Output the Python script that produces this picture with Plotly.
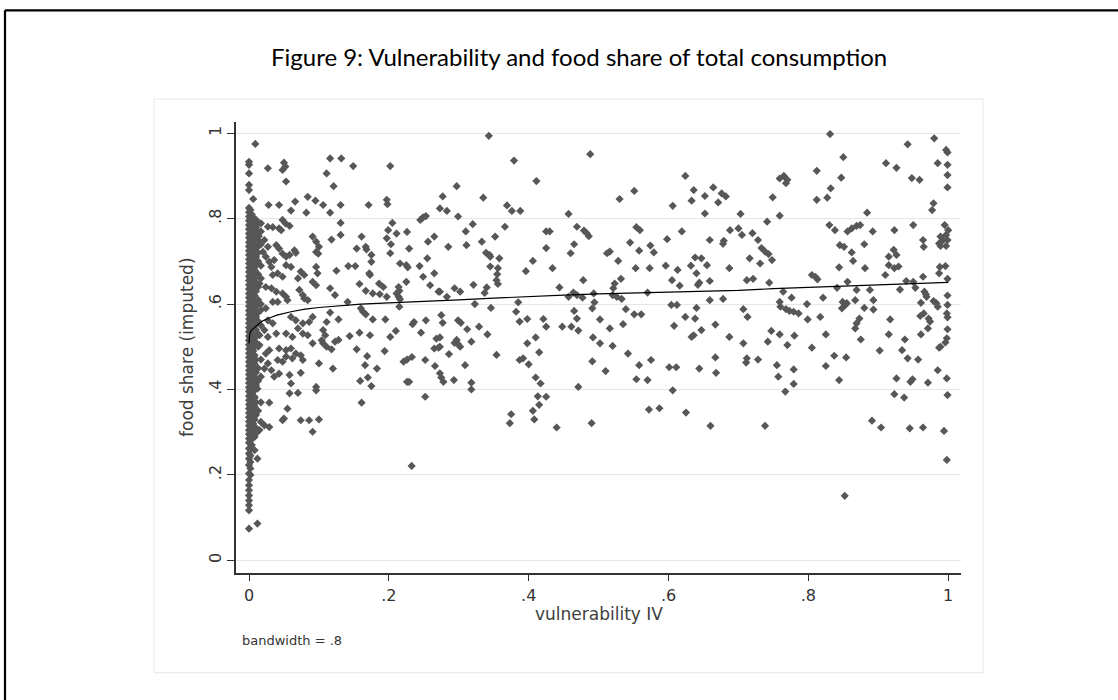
import plotly.graph_objects as go

# ---------------- data ----------------
# dense column of households with vulnerability ~ 0 (one list per small x offset)
col_x000 = [0.117, 0.129, 0.14, 0.152, 0.164, 0.176, 0.188, 0.203, 0.223, 0.238, 0.25, 0.262, 0.275,
            0.285, 0.295, 0.305, 0.315, 0.325, 0.335, 0.345, 0.355, 0.365, 0.375, 0.385, 0.395, 0.405,
            0.415, 0.425, 0.435, 0.445, 0.455, 0.465, 0.475, 0.485, 0.495, 0.505, 0.515, 0.525, 0.535,
            0.545, 0.555, 0.565, 0.575, 0.585, 0.595, 0.605, 0.615, 0.625, 0.635, 0.645, 0.655, 0.665,
            0.675, 0.685, 0.695, 0.705, 0.715, 0.725, 0.735, 0.745, 0.755, 0.765, 0.775, 0.785, 0.795,
            0.805, 0.815, 0.825, 0.867, 0.879, 0.906, 0.926, 0.933]
col_x002 = [0.2, 0.215, 0.23, 0.245, 0.26, 0.28, 0.3, 0.32, 0.34, 0.36, 0.38, 0.4, 0.42, 0.44, 0.46,
            0.48, 0.5, 0.52, 0.54, 0.56, 0.58, 0.6, 0.62, 0.64, 0.66, 0.68, 0.7, 0.72, 0.74, 0.76,
            0.78, 0.8, 0.82]
col_x004 = [0.27, 0.29, 0.31, 0.33, 0.35, 0.37, 0.39, 0.41, 0.43, 0.45, 0.47, 0.49, 0.51, 0.53, 0.55,
            0.57, 0.59, 0.61, 0.63, 0.65, 0.67, 0.69, 0.71, 0.73, 0.75, 0.77, 0.79, 0.81]
col_x006 = [0.29, 0.32, 0.345, 0.37, 0.395, 0.42, 0.44, 0.465, 0.49, 0.515, 0.54, 0.56, 0.585, 0.61,
            0.63, 0.655, 0.68, 0.7, 0.725, 0.75, 0.775, 0.8]
col_x008 = [0.3, 0.33, 0.36, 0.38, 0.4, 0.43, 0.46, 0.48, 0.5, 0.52, 0.55, 0.57, 0.6, 0.62, 0.64,
            0.66, 0.68, 0.7, 0.72, 0.74, 0.76, 0.78, 0.8]
col_x010 = [0.31, 0.34, 0.37, 0.41, 0.44, 0.47, 0.51, 0.54, 0.57, 0.6, 0.63, 0.65, 0.69, 0.71, 0.73,
            0.76, 0.78]
col_x013 = [0.35, 0.42, 0.45, 0.5, 0.53, 0.56, 0.58, 0.61, 0.64, 0.67, 0.7, 0.72, 0.75, 0.77, 0.79]
col_x017 = [0.37, 0.43, 0.47, 0.55, 0.6, 0.66, 0.69, 0.74, 0.77]

# (vulnerability, food share) pairs by region of the plot
pts_low_upper = [
    (0.009, 0.975), (0.027, 0.918), (0.05, 0.931), (0.048, 0.914), (0.052, 0.922), (0.053, 0.887),
    (0.006, 0.846), (0.028, 0.832), (0.043, 0.832), (0.06, 0.819), (0.066, 0.84), (0.084, 0.851),
    (0.095, 0.842), (0.082, 0.814), (0.01, 0.797), (0.017, 0.789), (0.027, 0.781), (0.034, 0.78),
    (0.043, 0.777), (0.048, 0.797), (0.052, 0.789), (0.058, 0.783), (0.046, 0.773), (0.014, 0.759),
    (0.022, 0.75), (0.015, 0.738), (0.027, 0.734), (0.02, 0.722), (0.024, 0.711), (0.039, 0.738),
    (0.043, 0.73), (0.048, 0.718), (0.053, 0.711), (0.058, 0.715), (0.065, 0.726), (0.067, 0.72),
    (0.091, 0.758), (0.096, 0.746), (0.1, 0.734), (0.096, 0.722), (0.099, 0.718), (0.029, 0.699),
    (0.036, 0.703), (0.032, 0.687), (0.053, 0.691), (0.06, 0.687), (0.074, 0.676), (0.079, 0.668),
    (0.07, 0.66), (0.048, 0.664), (0.041, 0.672), (0.034, 0.668), (0.096, 0.687), (0.098, 0.672),
    (0.091, 0.652), (0.096, 0.644), (0.015, 0.648), (0.024, 0.64), (0.032, 0.637), (0.039, 0.629),
    (0.048, 0.625), (0.053, 0.617), (0.055, 0.609), (0.034, 0.605), (0.041, 0.605), (0.072, 0.633),
    (0.077, 0.621), (0.079, 0.613), (0.084, 0.609), (0.01, 0.594), (0.017, 0.586), (0.024, 0.59),
    (0.091, 0.57), (0.086, 0.558), (0.077, 0.555), (0.06, 0.57), (0.067, 0.562), (0.027, 0.562),
    (0.034, 0.555), (0.022, 0.539), (0.015, 0.527), (0.027, 0.523), (0.039, 0.531), (0.053, 0.531),
    (0.07, 0.543), (0.077, 0.531), (0.062, 0.523), (0.084, 0.527),
]
pts_low_lower = [
    (0.091, 0.508), (0.015, 0.504), (0.029, 0.492), (0.024, 0.484), (0.043, 0.496), (0.053, 0.492),
    (0.06, 0.496), (0.067, 0.484), (0.062, 0.473), (0.053, 0.477), (0.048, 0.465), (0.041, 0.469),
    (0.074, 0.48), (0.077, 0.469), (0.027, 0.461), (0.022, 0.449), (0.032, 0.445), (0.043, 0.437),
    (0.036, 0.43), (0.058, 0.434), (0.06, 0.414), (0.074, 0.439), (0.1, 0.461), (0.096, 0.406),
    (0.096, 0.398), (0.058, 0.391), (0.07, 0.392), (0.029, 0.369), (0.01, 0.422), (0.012, 0.402),
    (0.008, 0.383), (0.055, 0.355), (0.05, 0.332), (0.048, 0.328), (0.074, 0.328), (0.086, 0.328),
    (0.1, 0.33), (0.091, 0.301), (0.017, 0.324), (0.022, 0.316), (0.029, 0.312), (0.015, 0.305),
    (0.01, 0.297), (0.008, 0.289), (0.008, 0.258), (0.012, 0.238), (0.012, 0.086), (0.0, 0.074),
]
pts_mid_left = [
    (0.116, 0.941), (0.132, 0.941), (0.111, 0.906), (0.149, 0.923), (0.202, 0.923), (0.121, 0.876),
    (0.106, 0.832), (0.131, 0.832), (0.116, 0.814), (0.171, 0.832), (0.197, 0.844), (0.198, 0.834),
    (0.131, 0.79), (0.131, 0.762), (0.118, 0.751), (0.161, 0.758), (0.154, 0.73), (0.167, 0.734),
    (0.168, 0.728), (0.175, 0.715), (0.175, 0.699), (0.142, 0.689), (0.152, 0.689), (0.172, 0.672),
    (0.173, 0.668), (0.205, 0.79), (0.199, 0.773), (0.211, 0.765), (0.197, 0.754), (0.203, 0.74),
    (0.202, 0.719), (0.226, 0.769), (0.229, 0.73), (0.216, 0.695), (0.225, 0.691), (0.227, 0.686),
    (0.245, 0.797), (0.249, 0.803), (0.253, 0.806), (0.256, 0.746), (0.265, 0.758), (0.244, 0.689),
    (0.255, 0.707), (0.249, 0.664), (0.265, 0.672), (0.259, 0.644), (0.271, 0.629), (0.225, 0.652),
    (0.214, 0.64), (0.215, 0.631), (0.211, 0.625), (0.214, 0.617), (0.216, 0.611), (0.215, 0.594),
    (0.186, 0.648), (0.192, 0.64), (0.197, 0.617), (0.187, 0.623), (0.177, 0.625), (0.167, 0.631),
    (0.158, 0.647), (0.125, 0.678), (0.116, 0.637), (0.123, 0.621), (0.141, 0.605), (0.16, 0.59),
    (0.163, 0.582), (0.167, 0.576), (0.177, 0.564), (0.195, 0.564), (0.158, 0.533), (0.173, 0.527),
    (0.144, 0.525), (0.116, 0.58), (0.128, 0.564), (0.111, 0.558), (0.106, 0.539), (0.109, 0.527),
    (0.104, 0.515), (0.106, 0.508), (0.111, 0.5), (0.118, 0.494), (0.123, 0.512), (0.128, 0.516),
    (0.12, 0.449), (0.154, 0.494), (0.169, 0.478), (0.166, 0.457), (0.183, 0.449), (0.159, 0.42),
    (0.17, 0.428), (0.175, 0.408), (0.161, 0.369), (0.194, 0.49), (0.202, 0.523), (0.21, 0.537),
    (0.236, 0.558), (0.234, 0.553), (0.246, 0.533), (0.253, 0.562), (0.268, 0.519), (0.265, 0.496),
    (0.271, 0.498), (0.221, 0.465), (0.226, 0.47), (0.233, 0.476), (0.252, 0.469), (0.226, 0.418),
    (0.229, 0.418), (0.252, 0.383), (0.266, 0.455), (0.2326, 0.221),
]
pts_center = [
    (0.343, 0.994), (0.379, 0.936), (0.488, 0.951), (0.411, 0.888), (0.297, 0.876), (0.277, 0.852),
    (0.335, 0.849), (0.273, 0.824), (0.283, 0.818), (0.299, 0.805), (0.369, 0.831), (0.376, 0.818),
    (0.388, 0.818), (0.624, 0.9), (0.636, 0.867), (0.633, 0.842), (0.606, 0.83), (0.53, 0.846),
    (0.551, 0.865), (0.457, 0.811), (0.32, 0.787), (0.31, 0.77), (0.285, 0.734), (0.311, 0.738),
    (0.333, 0.746), (0.366, 0.781), (0.352, 0.758), (0.339, 0.72), (0.344, 0.715), (0.345, 0.711),
    (0.358, 0.707), (0.345, 0.688), (0.356, 0.684), (0.355, 0.67), (0.354, 0.656), (0.356, 0.647),
    (0.406, 0.701), (0.396, 0.677), (0.425, 0.77), (0.43, 0.77), (0.425, 0.731), (0.434, 0.684),
    (0.469, 0.781), (0.479, 0.772), (0.483, 0.766), (0.486, 0.759), (0.465, 0.74), (0.46, 0.719),
    (0.512, 0.719), (0.516, 0.723), (0.528, 0.701), (0.545, 0.744), (0.554, 0.78), (0.559, 0.773),
    (0.558, 0.725), (0.574, 0.737), (0.579, 0.721), (0.553, 0.684), (0.573, 0.684), (0.598, 0.752),
    (0.619, 0.77), (0.596, 0.69), (0.613, 0.68), (0.632, 0.69), (0.638, 0.709), (0.64, 0.672),
    (0.644, 0.65), (0.642, 0.645), (0.605, 0.656), (0.616, 0.643), (0.478, 0.656), (0.444, 0.639),
    (0.532, 0.659), (0.523, 0.648), (0.521, 0.637), (0.52, 0.621), (0.526, 0.617), (0.533, 0.612),
    (0.321, 0.645), (0.294, 0.637), (0.302, 0.629), (0.283, 0.617), (0.273, 0.629), (0.337, 0.626),
    (0.34, 0.639), (0.323, 0.6), (0.346, 0.591), (0.385, 0.604), (0.382, 0.582), (0.387, 0.559),
    (0.398, 0.565), (0.421, 0.565), (0.425, 0.547), (0.457, 0.617), (0.464, 0.627), (0.469, 0.621),
    (0.477, 0.615), (0.493, 0.625), (0.494, 0.604), (0.491, 0.59), (0.465, 0.584), (0.469, 0.566),
    (0.448, 0.547), (0.461, 0.547), (0.471, 0.538), (0.502, 0.564), (0.516, 0.543), (0.539, 0.588),
    (0.535, 0.553), (0.551, 0.576), (0.561, 0.576), (0.57, 0.627), (0.604, 0.598), (0.612, 0.598),
    (0.624, 0.57), (0.638, 0.566), (0.64, 0.591), (0.608, 0.549), (0.636, 0.527), (0.633, 0.523),
    (0.275, 0.574), (0.277, 0.556), (0.299, 0.562), (0.303, 0.556), (0.312, 0.541), (0.329, 0.547),
    (0.341, 0.529), (0.273, 0.522), (0.297, 0.516), (0.299, 0.506), (0.302, 0.5), (0.294, 0.509),
    (0.318, 0.512), (0.273, 0.5), (0.286, 0.483), (0.354, 0.481), (0.41, 0.522), (0.398, 0.508),
    (0.415, 0.487), (0.387, 0.469), (0.392, 0.473), (0.4, 0.459), (0.309, 0.457), (0.273, 0.438),
    (0.275, 0.428), (0.278, 0.418), (0.293, 0.422), (0.318, 0.416), (0.318, 0.4), (0.41, 0.428),
    (0.417, 0.414), (0.492, 0.522), (0.502, 0.508), (0.52, 0.502), (0.491, 0.466), (0.51, 0.443),
    (0.471, 0.406), (0.542, 0.484), (0.558, 0.457), (0.575, 0.469), (0.554, 0.424), (0.57, 0.422),
    (0.601, 0.452), (0.611, 0.452), (0.606, 0.398), (0.644, 0.449), (0.413, 0.384), (0.425, 0.383),
    (0.667, 0.552), (0.415, 0.364), (0.406, 0.35), (0.408, 0.33), (0.375, 0.342), (0.373, 0.321),
    (0.44, 0.311), (0.49, 0.321), (0.572, 0.353), (0.587, 0.356), (0.625, 0.346),
]
pts_right = [
    (0.831, 0.998), (0.98, 0.988), (0.942, 0.974), (0.997, 0.961), (0.999, 0.955), (0.85, 0.944),
    (0.911, 0.93), (0.926, 0.919), (0.985, 0.93), (0.999, 0.926), (0.999, 0.902), (0.812, 0.912),
    (0.847, 0.896), (0.948, 0.895), (0.959, 0.891), (0.999, 0.873), (0.759, 0.894), (0.765, 0.9),
    (0.77, 0.891), (0.768, 0.883), (0.832, 0.871), (0.827, 0.849), (0.812, 0.844), (0.749, 0.85),
    (0.759, 0.807), (0.741, 0.793), (0.664, 0.873), (0.652, 0.853), (0.676, 0.859), (0.682, 0.852),
    (0.671, 0.838), (0.652, 0.812), (0.703, 0.811), (0.979, 0.836), (0.977, 0.82), (0.884, 0.814),
    (0.83, 0.785), (0.838, 0.773), (0.856, 0.77), (0.862, 0.777), (0.869, 0.783), (0.874, 0.785),
    (0.892, 0.77), (0.923, 0.773), (0.95, 0.785), (0.995, 0.785), (1.0, 0.773), (0.997, 0.762),
    (0.989, 0.758), (0.993, 0.75), (0.999, 0.75), (0.987, 0.742), (0.989, 0.736), (0.997, 0.736),
    (0.964, 0.75), (0.965, 0.734), (0.659, 0.75), (0.679, 0.748), (0.678, 0.741), (0.688, 0.773),
    (0.7, 0.777), (0.705, 0.762), (0.72, 0.766), (0.728, 0.75), (0.733, 0.731), (0.738, 0.723),
    (0.743, 0.717), (0.748, 0.703), (0.716, 0.707), (0.731, 0.695), (0.687, 0.684), (0.655, 0.691),
    (0.647, 0.707), (0.659, 0.654), (0.712, 0.656), (0.721, 0.659), (0.744, 0.65), (0.805, 0.668),
    (0.81, 0.664), (0.813, 0.658), (0.845, 0.738), (0.851, 0.734), (0.862, 0.721), (0.864, 0.701),
    (0.88, 0.74), (0.844, 0.686), (0.881, 0.684), (0.856, 0.652), (0.841, 0.638), (0.91, 0.668),
    (0.915, 0.711), (0.915, 0.691), (0.922, 0.727), (0.926, 0.715), (0.923, 0.684), (0.929, 0.688),
    (0.964, 0.664), (0.94, 0.654), (0.95, 0.652), (0.988, 0.687), (0.996, 0.689), (0.987, 0.672),
    (0.999, 0.659), (0.931, 0.634), (0.953, 0.638), (0.966, 0.629), (0.969, 0.617), (0.968, 0.623),
    (0.888, 0.633), (0.869, 0.633), (0.821, 0.615), (0.764, 0.629), (0.776, 0.615), (0.759, 0.605),
    (0.76, 0.594), (0.768, 0.588), (0.773, 0.584), (0.779, 0.582), (0.786, 0.578), (0.798, 0.6),
    (0.799, 0.564), (0.817, 0.57), (0.849, 0.605), (0.853, 0.598), (0.848, 0.59), (0.855, 0.602),
    (0.867, 0.609), (0.88, 0.591), (0.893, 0.609), (0.893, 0.587), (0.707, 0.588), (0.713, 0.57),
    (0.659, 0.609), (0.678, 0.612), (0.999, 0.62), (0.999, 0.598), (0.998, 0.578), (0.999, 0.569),
    (0.961, 0.603), (0.979, 0.607), (0.983, 0.602), (0.985, 0.594), (0.96, 0.572), (0.965, 0.578),
    (0.972, 0.566), (0.974, 0.559), (0.917, 0.564), (0.873, 0.566), (0.869, 0.555), (0.867, 0.543),
    (0.971, 0.543), (0.999, 0.541), (0.647, 0.539), (0.687, 0.523), (0.707, 0.508), (0.747, 0.537),
    (0.759, 0.529), (0.78, 0.526), (0.77, 0.504), (0.742, 0.512), (0.825, 0.529), (0.805, 0.498),
    (0.875, 0.517), (0.902, 0.491), (0.915, 0.529), (0.938, 0.517), (0.961, 0.529), (0.998, 0.52),
    (0.996, 0.51), (0.989, 0.5), (0.987, 0.498), (0.667, 0.475), (0.712, 0.473), (0.711, 0.463),
    (0.728, 0.47), (0.755, 0.457), (0.779, 0.447), (0.757, 0.43), (0.779, 0.413), (0.767, 0.395),
    (0.825, 0.455), (0.837, 0.479), (0.854, 0.475), (0.844, 0.422), (0.934, 0.492), (0.942, 0.473),
    (0.957, 0.47), (0.926, 0.426), (0.949, 0.424), (0.946, 0.418), (0.971, 0.416), (0.985, 0.445),
    (0.998, 0.426), (0.923, 0.389), (0.937, 0.381), (0.999, 0.387), (0.668, 0.439),
    (0.66, 0.315), (0.738, 0.315), (0.852, 0.151), (0.891, 0.327), (0.904, 0.311), (0.945, 0.309),
    (0.964, 0.311), (0.994, 0.303), (0.998, 0.235),
]

# lowess fit (bandwidth = .8)
fit_x = [0.0, 0.001, 0.003, 0.006, 0.01, 0.015, 0.02, 0.03, 0.04, 0.06, 0.08, 0.1, 0.13, 0.16, 0.2,
         0.25, 0.3, 0.35, 0.4, 0.45, 0.5, 0.55, 0.6, 0.65, 0.7, 0.75, 0.8, 0.85, 0.9, 0.95, 1.0]
fit_y = [0.508, 0.53, 0.538, 0.543, 0.548, 0.555, 0.561, 0.568, 0.574, 0.582, 0.588, 0.592, 0.596,
         0.6, 0.603, 0.606, 0.61, 0.614, 0.618, 0.621, 0.624, 0.626, 0.628, 0.629, 0.632, 0.636,
         0.639, 0.643, 0.646, 0.648, 0.651]

tick_vals = [0, 0.2, 0.4, 0.6, 0.8, 1]
tick_text = ["0", ".2", ".4", ".6", ".8", "1"]

# ---------------- assemble ----------------
xs, ys = [], []
for xv, col in ((0.0, col_x000), (0.002, col_x002), (0.004, col_x004), (0.006, col_x006),
                (0.008, col_x008), (0.010, col_x010), (0.013, col_x013), (0.017, col_x017)):
    xs += [xv] * len(col)
    ys += col
for grp in (pts_low_upper, pts_low_lower, pts_mid_left, pts_center, pts_right):
    xs += [p[0] for p in grp]
    ys += [p[1] for p in grp]

W, H = 1118, 700
def px(x):
    return x / W
def py(y):
    return 1 - y / H

fig = go.Figure()
fig.add_trace(go.Scatter(x=xs, y=ys, mode="markers",
                         marker=dict(symbol="diamond", size=6.3, color="#575757", line=dict(width=0)),
                         showlegend=False, hoverinfo="skip"))
fig.add_trace(go.Scatter(x=fit_x, y=fit_y, mode="lines", line=dict(color="black", width=1.2),
                         showlegend=False, hoverinfo="skip"))

axis_font = dict(family="DejaVu Sans", size=16, color="#333333")
fig.update_layout(
    width=W, height=H, margin=dict(l=0, r=0, t=0, b=0),
    paper_bgcolor="white", plot_bgcolor="white",
    xaxis=dict(domain=[px(236), px(961)], range=[-0.0186, 1.0183], tickvals=tick_vals,
               ticktext=tick_text, ticks="outside", ticklen=7, tickwidth=1.2, tickcolor="#333",
               showline=True, linecolor="#333", linewidth=1.5, showgrid=False, zeroline=False,
               tickfont=axis_font),
    yaxis=dict(domain=[py(572.7), py(121.7)], range=[-0.029, 1.027], tickvals=tick_vals,
               ticktext=tick_text, ticks="outside", ticklen=7, tickwidth=1.2, tickcolor="#333",
               showline=True, linecolor="#333", linewidth=1.5, showgrid=True,
               gridcolor="#e6e6e6", gridwidth=1.2, zeroline=False, tickangle=-90,
               tickfont=axis_font),
    shapes=[
        dict(type="rect", xref="paper", yref="paper", x0=px(154), x1=px(983), y0=py(672.7),
             y1=py(99), line=dict(color="#e8e8e8", width=1), layer="below"),
        dict(type="line", xref="paper", yref="paper", x0=px(5), x1=px(5), y0=0, y1=py(10.3),
             line=dict(color="black", width=2.2)),
        dict(type="line", xref="paper", yref="paper", x0=px(5), x1=1, y0=py(10.3), y1=py(10.3),
             line=dict(color="black", width=2.2)),
    ],
    annotations=[
        dict(text="Figure 9: Vulnerability and food share of total consumption", xref="paper",
             yref="paper", x=px(579), y=py(57), xanchor="center", yanchor="middle",
             showarrow=False, font=dict(family="Lato", size=24, color="black")),
        dict(text="vulnerability IV", xref="paper", yref="paper", x=px(598.5), y=py(614),
             xanchor="center", yanchor="middle", showarrow=False,
             font=dict(family="DejaVu Sans", size=17, color="#404040")),
        dict(text="food share (imputed)", xref="paper", yref="paper", x=px(187), y=py(347),
             xanchor="center", yanchor="middle", showarrow=False, textangle=-90,
             font=dict(family="DejaVu Sans", size=17, color="#404040")),
        dict(text="bandwidth = .8", xref="paper", yref="paper", x=px(240), y=py(640),
             xanchor="left", yanchor="middle", showarrow=False,
             font=dict(family="DejaVu Sans", size=13, color="#333333")),
    ],
)

fig.write_html("out.html")
